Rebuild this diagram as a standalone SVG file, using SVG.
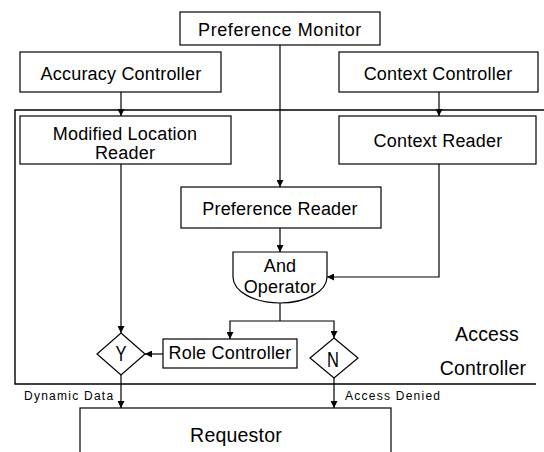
<svg xmlns="http://www.w3.org/2000/svg" width="544" height="452" viewBox="0 0 544 452">
<style>
.box{fill:#fff;stroke:#000;stroke-width:1.2}
.frame{fill:none;stroke:#000;stroke-width:1.4}
.ln{fill:none;stroke:#000;stroke-width:1.2}
.t{font-family:"Liberation Sans",Arial,sans-serif;font-size:18px;letter-spacing:0.2px;fill:#000;text-anchor:middle}
.big{font-size:19.5px}
.yn{font-size:22px;letter-spacing:0}
.sm{font-family:"Liberation Sans",Arial,sans-serif;font-size:12px;letter-spacing:1.25px;fill:#000}
</style>
<defs>
<marker id="ah" viewBox="0 0 10 10" refX="10" refY="5" markerWidth="7" markerHeight="7" markerUnits="userSpaceOnUse" orient="auto">
<path d="M0,0 L10,5 L0,10 Z" fill="#000"/>
</marker>
</defs>
<rect width="544" height="452" fill="#fff"/>
<g id="access-controller-frame">
<path class="frame" d="M544,110 H15 V384 H536"/>
<text class="t big" x="487" y="341">Access</text>
<text class="t big" x="483" y="375">Controller</text>
</g>
<g id="connectors">
<path class="ln" d="M121,92 V116" marker-end="url(#ah)"/>
<path class="ln" d="M439,92 V116" marker-end="url(#ah)"/>
<path class="ln" d="M280,45 V187" marker-end="url(#ah)"/>
<path class="ln" d="M280,228 V252" marker-end="url(#ah)"/>
<path class="ln" d="M439,164 V277 H327" marker-end="url(#ah)"/>
<path class="ln" d="M121,164 V333" marker-end="url(#ah)"/>
<path class="ln" d="M280,303 V321"/>
<path class="ln" d="M280,321 H230 V339" marker-end="url(#ah)"/>
<path class="ln" d="M280,321 H334 V338" marker-end="url(#ah)"/>
<path class="ln" d="M163,354 H145" marker-end="url(#ah)"/>
<path class="ln" d="M121,375 V408" marker-end="url(#ah)"/>
<path class="ln" d="M334,378 V408" marker-end="url(#ah)"/>
<text class="sm" x="24" y="400">Dynamic Data</text>
<text class="sm" x="345" y="400">Access Denied</text>
</g>
<g id="preference-monitor">
<rect class="box" x="180" y="12" width="200" height="33"/>
<text class="t" x="280" y="36" style="letter-spacing:0.6px">Preference Monitor</text>
</g>
<g id="accuracy-controller">
<rect class="box" x="20" y="52" width="201" height="40"/>
<text class="t" x="121" y="80">Accuracy Controller</text>
</g>
<g id="context-controller">
<rect class="box" x="339" y="52" width="199" height="40"/>
<text class="t" x="438" y="80">Context Controller</text>
</g>
<g id="modified-location-reader">
<rect class="box" x="20" y="116" width="211" height="48"/>
<text class="t" x="125" y="140">Modified Location</text>
<text class="t" x="125" y="159">Reader</text>
</g>
<g id="context-reader">
<rect class="box" x="339" y="116" width="197" height="48"/>
<text class="t" x="438" y="147">Context Reader</text>
</g>
<g id="preference-reader">
<rect class="box" x="181" y="187" width="200" height="41"/>
<text class="t" x="280" y="215">Preference Reader</text>
</g>
<g id="and-operator">
<path class="box" d="M233,252 H327 V277 A47,26 0 0 1 233,277 Z"/>
<text class="t" x="280" y="272">And</text>
<text class="t" x="280" y="293">Operator</text>
</g>
<g id="role-controller">
<rect class="box" x="163" y="339" width="134" height="29"/>
<text class="t" x="230" y="359">Role Controller</text>
</g>
<g id="y-decision">
<path class="box" d="M121,333 L145,354 L121,375 L97,354 Z"/>
<text class="t yn" transform="translate(121,361) scale(0.75,1)" x="0" y="0">Y</text>
</g>
<g id="n-decision">
<path class="box" d="M334,338 L358,358 L334,378 L310,358 Z"/>
<text class="t yn" transform="translate(333,367) scale(0.75,1)" x="0" y="0">N</text>
</g>
<g id="requestor">
<rect class="box" x="80" y="408" width="311" height="60"/>
<text class="t big" x="236" y="442">Requestor</text>
</g>
</svg>
